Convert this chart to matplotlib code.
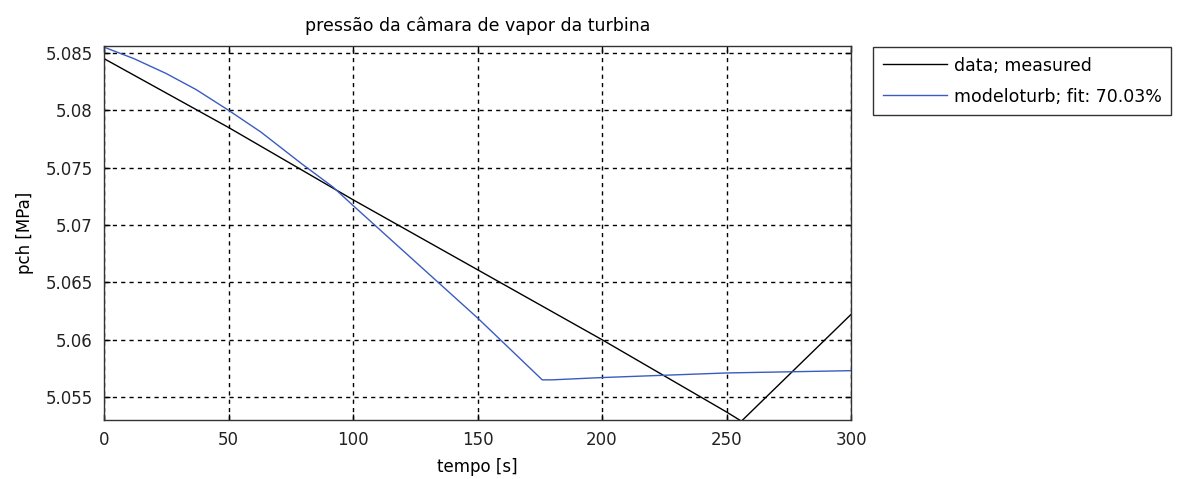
import matplotlib.pyplot as plt
import numpy as np

# measured data (black)
t_meas = [0, 50, 100, 150, 200, 250, 256, 300]
p_meas = [5.0845, 5.0785, 5.0722, 5.0661, 5.0600, 5.0537, 5.0529, 5.0622]

# model output (blue)
t_mod = [0, 12, 25, 37, 50, 63, 79, 92, 100, 125, 150, 176, 180,
         200, 225, 250, 275, 300]
p_mod = [5.0855, 5.0845, 5.0832, 5.0818, 5.0800, 5.0781, 5.0754, 5.0733,
         5.0717, 5.0668, 5.0619, 5.0565, 5.0565, 5.0567, 5.0569, 5.0571,
         5.0572, 5.0573]

labels = ['data; measured', 'modeloturb; fit: 70.03%']
x_ticks = [0, 50, 100, 150, 200, 250, 300]
y_ticks = [5.055, 5.06, 5.065, 5.07, 5.075, 5.08, 5.085]
y_tick_labels = ['5.055', '5.06', '5.065', '5.07', '5.075', '5.08', '5.085']

plt.rcParams['font.family'] = ['DejaVu Sans']
plt.rcParams['font.size'] = 12

fig = plt.figure(figsize=(11.79, 4.79), dpi=100)
W, H = 1179, 479
ax = fig.add_axes([104 / W, 1 - 420 / H, (851 - 104) / W, (420 - 46) / H])

ax.plot(t_meas, p_meas, color='black', lw=1, label=labels[0])
ax.plot(t_mod, p_mod, color='#3a5cc0', lw=1, label=labels[1])

ax.set_xlim(0, 300)
ax.set_ylim(5.053, 5.0856)
ax.set_xticks(x_ticks)
ax.set_yticks(y_ticks)
ax.set_yticklabels(y_tick_labels)
ax.tick_params(direction='in', top=True, right=True, length=4, width=1,
               colors='black', labelcolor='#222222')
ax.tick_params(axis='x', pad=8)
ax.tick_params(axis='y', pad=8)
ax.grid(True, color='black', linestyle=(0, (3, 3)), linewidth=1)
for s in ax.spines.values():
    s.set_linewidth(1)
    s.set_color('#333333')

ax.set_title('pressão da câmara de vapor da turbina', fontsize=12.5, pad=11)
ax.set_xlabel('tempo [s]')
ax.set_ylabel('pch [MPa]')
ax.xaxis.set_label_coords(0.5, (420 - 458) / 374)
ax.yaxis.set_label_coords((34 - 104) / 747, 0.5)

leg = fig.legend(loc='upper left', bbox_to_anchor=(873 / W, 1 - 47 / H),
                 frameon=True, fancybox=False, edgecolor='black',
                 fontsize=12.5, handlelength=3.7, handletextpad=0.4,
                 labelspacing=0.75, borderpad=0.55, borderaxespad=0)
leg.get_frame().set_linewidth(1)

fig.savefig('out.png', dpi=100)
